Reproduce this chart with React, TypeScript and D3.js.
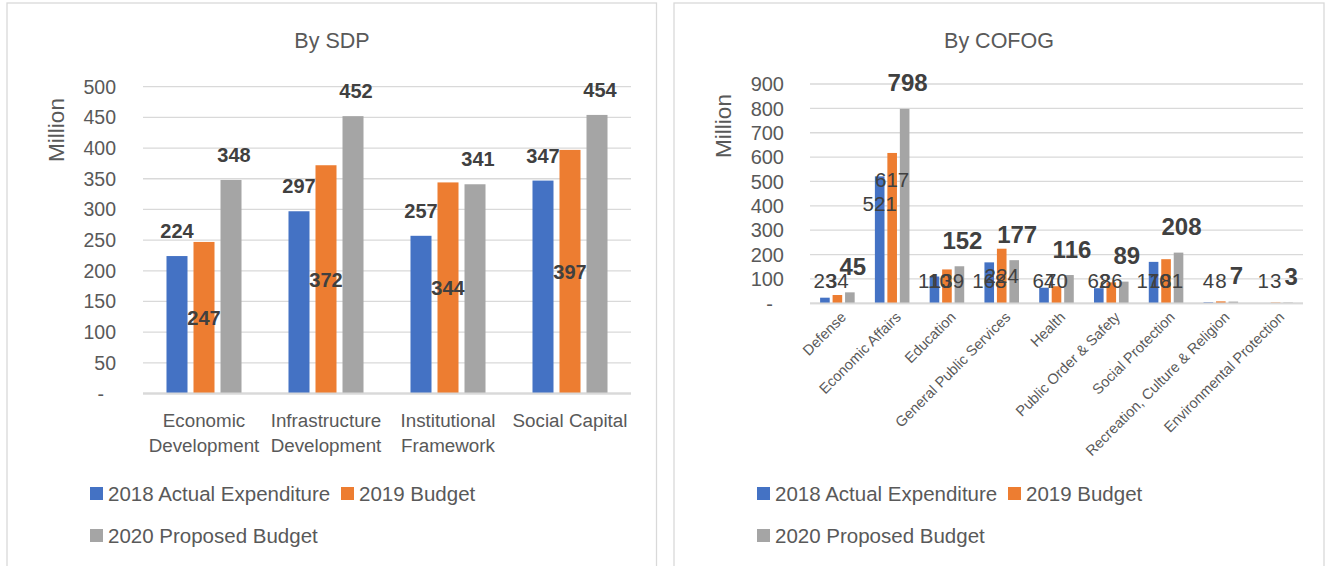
import React from "react";
import * as d3 from "d3";

const W = 1329;
const H = 566;
const FONT = "'Liberation Sans', Arial, sans-serif";

// series
const seriesNames = ["2018 Actual Expenditure", "2019 Budget", "2020 Proposed Budget"];
const seriesColors = ["#4472c4", "#ed7d31", "#a5a5a5"];

// By SDP
const sdpCategories = [
  ["Economic", "Development"],
  ["Infrastructure", "Development"],
  ["Institutional", "Framework"],
  ["Social Capital"],
];
const sdpActual2018 = [224, 297, 257, 347];
const sdpBudget2019 = [247, 372, 344, 397];
const sdpProposed2020 = [348, 452, 341, 454];
const sdpMax = 500;
const sdpStep = 50;

// By COFOG
const cofogCategories = [
  "Defense",
  "Economic Affairs",
  "Education",
  "General Public Services",
  "Health",
  "Public Order & Safety",
  "Social Protection",
  "Recreation, Culture & Religion",
  "Environmental Protection",
];
const cofogActual2018 = [23, 521, 110, 168, 64, 62, 170, 4, 1];
const cofogBudget2019 = [34, 617, 139, 224, 70, 86, 181, 8, 3];
const cofogProposed2020 = [45, 798, 152, 177, 116, 89, 208, 7, 3];
const cofogMax = 900;
const cofogStep = 100;

const textGray = "#595959";
const labelGray = "#404040";
const gridGray = "#d9d9d9";

function Legend({ x, y }: { x: number; y: number }) {
  const items = [
    { i: 0, dx: 0, dy: 0 },
    { i: 1, dx: 251, dy: 0 },
    { i: 2, dx: 0, dy: 42 },
  ];
  return (
    <g>
      {items.map(({ i, dx, dy }) => (
        <g key={i} transform={`translate(${x + dx},${y + dy})`}>
          <rect x={0} y={-6.5} width={13} height={13} fill={seriesColors[i]} />
          <text x={18} y={0} dy="0.36em" fontSize={20.5} fill={textGray}>
            {seriesNames[i]}
          </text>
        </g>
      ))}
    </g>
  );
}

function SdpChart() {
  const left = 143, right = 631, top = 86.7, base = 393.5;
  const data = [sdpActual2018, sdpBudget2019, sdpProposed2020];
  const x0 = d3.scaleBand<number>().domain(d3.range(sdpCategories.length)).range([left, right]);
  const x1 = d3.scaleBand<number>().domain([0, 1, 2]).range([0, x0.bandwidth()])
    .paddingInner(0.222).paddingOuter(0.87);
  const y = d3.scaleLinear().domain([0, sdpMax]).range([base, top]);
  const ticks = d3.range(0, sdpMax + 1, sdpStep);

  return (
    <g>
      <rect x={7} y={3} width={649.5} height={H + 10} fill="#fff" stroke={gridGray} strokeWidth={1.3} />
      <text x={332} y={40} dy="0.36em" textAnchor="middle" fontSize={21.5} fill={textGray}>By SDP</text>
      <text transform={`translate(56,130) rotate(-90)`} dy="0.36em" textAnchor="middle" fontSize={22.5} fill={textGray}>Million</text>
      {ticks.map((t) => (
        <g key={t}>
          <line x1={left} x2={right} y1={y(t)} y2={y(t)} stroke={gridGray} strokeWidth={t === 0 ? 1.8 : 1.3} />
          <text x={t === 0 ? 104 : 116} y={y(t)} dy="0.36em" textAnchor="end" fontSize={19.5} fill={textGray}>
            {t === 0 ? "-" : t}
          </text>
        </g>
      ))}
      {data.map((vals, s) =>
        vals.map((v, c) => (
          <rect key={`${s}-${c}`} x={x0(c)! + x1(s)!} y={y(v)} width={x1.bandwidth()} height={base - y(v)} fill={seriesColors[s]} />
        ))
      )}
      <line x1={left} x2={right} y1={base} y2={base} stroke={gridGray} strokeWidth={1.8} />
      {data.map((vals, s) =>
        vals.map((v, c) => {
          const cx = x0(c)! + x1(s)! + x1.bandwidth() / 2 + (s === 2 ? 3 : 0);
          const cy = s === 1 ? (y(v) + base) / 2 : y(v) - 25;
          return (
            <text key={`l${s}-${c}`} x={cx} y={cy} dy="0.36em" textAnchor="middle" fontSize={20} fontWeight="bold" fill={labelGray}>
              {v}
            </text>
          );
        })
      )}
      {sdpCategories.map((lines, c) => (
        <text key={c} x={x0(c)! + x0.bandwidth() / 2} y={420} dy="0.36em" textAnchor="middle" fontSize={18.8} fill={textGray}>
          {lines.map((ln, k) => (
            <tspan key={k} x={x0(c)! + x0.bandwidth() / 2} dy={k === 0 ? "0.36em" : 25}>{ln}</tspan>
          ))}
        </text>
      ))}
      <Legend x={90} y={493.5} />
    </g>
  );
}

function CofogChart() {
  const left = 810, right = 1303, top = 84, base = 303.3;
  const data = [cofogActual2018, cofogBudget2019, cofogProposed2020];
  const x0 = d3.scaleBand<number>().domain(d3.range(cofogCategories.length)).range([left, right]);
  const x1 = d3.scaleBand<number>().domain([0, 1, 2]).range([0, x0.bandwidth()])
    .paddingInner(0.23).paddingOuter(0.81);
  const y = d3.scaleLinear().domain([0, cofogMax]).range([base, top]);
  const ticks = d3.range(0, cofogMax + 1, cofogStep);

  return (
    <g>
      <rect x={674} y={3} width={650} height={H + 10} fill="#fff" stroke={gridGray} strokeWidth={1.3} />
      <text x={999} y={40} dy="0.36em" textAnchor="middle" fontSize={21.5} fill={textGray}>By COFOG</text>
      <text transform={`translate(723,126) rotate(-90)`} dy="0.36em" textAnchor="middle" fontSize={22.5} fill={textGray}>Million</text>
      {ticks.map((t) => (
        <g key={t}>
          <line x1={left} x2={right} y1={y(t)} y2={y(t)} stroke={gridGray} strokeWidth={t === 0 ? 1.8 : 1.3} />
          <text x={t === 0 ? 773 : 784} y={y(t)} dy="0.36em" textAnchor="end" fontSize={20} fill={textGray}>
            {t === 0 ? "-" : t}
          </text>
        </g>
      ))}
      {data.map((vals, s) =>
        vals.map((v, c) => (
          <rect key={`${s}-${c}`} x={x0(c)! + x1(s)!} y={y(v)} width={x1.bandwidth()} height={base - y(v)} fill={seriesColors[s]} />
        ))
      )}
      <line x1={left} x2={right} y1={base} y2={base} stroke={gridGray} strokeWidth={1.8} />
      {data.map((vals, s) =>
        vals.map((v, c) => {
          const cx = x0(c)! + x1(s)! + x1.bandwidth() / 2 + (s === 2 ? 3 : 0);
          const cy = s === 2 ? y(v) - 26 : Math.min(y(v) + 27, base - 23);
          return (
            <text key={`l${s}-${c}`} x={cx} y={cy} dy="0.36em" textAnchor="middle"
              fontSize={s === 2 ? 24 : 20.5} fontWeight={s === 2 ? "bold" : "normal"} fill={labelGray}>
              {v}
            </text>
          );
        })
      )}
      {cofogCategories.map((name, c) => (
        <text key={c} transform={`translate(${x0(c)! + x0.bandwidth() / 2 + 6},${base + 11}) rotate(-45)`}
          dy="0.36em" textAnchor="end" fontSize={14.6} fill={textGray}>
          {name}
        </text>
      ))}
      <Legend x={757} y={493.5} />
    </g>
  );
}

export default function App() {
  return (
    <svg width={W} height={H} style={{ position: "absolute", left: 0, top: 0, background: "#fff" }} fontFamily={FONT}>
      <rect width={W} height={H} fill="#fff" />
      <SdpChart />
      <CofogChart />
    </svg>
  );
}
